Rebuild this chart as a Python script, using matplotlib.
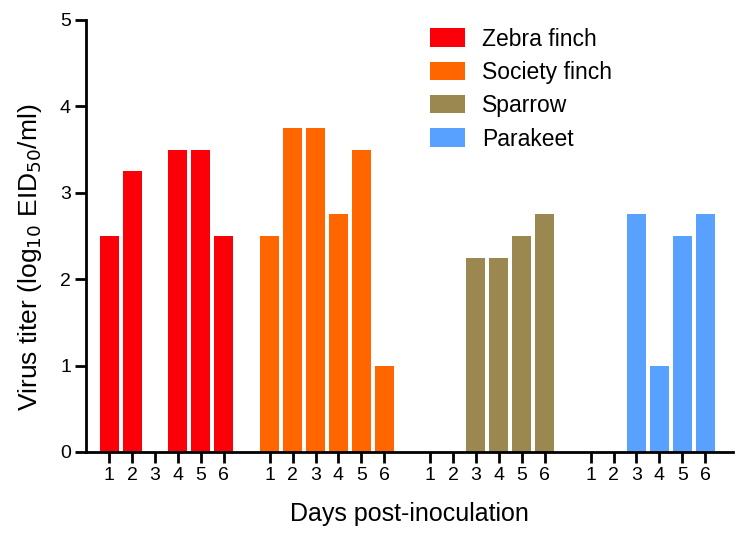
import numpy as np
import matplotlib.pyplot as plt

plt.rcParams['font.family'] = ['Liberation Sans', 'DejaVu Sans']

birds = ['Zebra finch', 'Society finch', 'Sparrow', 'Parakeet']
colors = ['#fc0009', '#ff6600', '#9b8850', '#58a1ff']
days = [1, 2, 3, 4, 5, 6]
zebra = [2.5, 3.25, 0, 3.5, 3.5, 2.5]
society = [2.5, 3.75, 3.75, 2.75, 3.5, 1.0]
sparrow = [0, 0, 2.25, 2.25, 2.5, 2.75]
parakeet = [0, 0, 2.75, 1.0, 2.5, 2.75]

titers = [zebra, society, sparrow, parakeet]

fig = plt.figure(figsize=(7.5, 5.38), dpi=100)
ax = fig.add_axes([0.115, 0.16, 0.862, 0.803])

tick_pos = []
tick_lab = []
for g, (name, vals, c) in enumerate(zip(birds, titers, colors)):
    x = np.array(days) + g * 7
    ax.bar(x, vals, width=0.83, color=c, label=name)
    tick_pos.extend(x)
    tick_lab.extend([str(d) for d in days])

ax.set_xlim(0, 28.2)
ax.set_ylim(0, 5)
ax.set_xticks(tick_pos)
ax.set_xticklabels(tick_lab)
ax.set_yticks([0, 1, 2, 3, 4, 5])
ax.tick_params(axis='both', length=8, width=2, labelsize=14, pad=3)

for s in ['top', 'right']:
    ax.spines[s].set_visible(False)
for s in ['left', 'bottom']:
    ax.spines[s].set_linewidth(2)

ax.set_ylabel('Virus titer (log$_{10}$ EID$_{50}$/ml)', fontsize=19)
ax.yaxis.set_label_coords(-0.066, 0.45)
ax.set_xlabel('Days post-inoculation', fontsize=18, labelpad=13)

ax.legend(loc='upper left', bbox_to_anchor=(0.5, 1.03), frameon=False, fontsize=16.5,
          handlelength=1.5, handleheight=0.85, handletextpad=0.75, labelspacing=0.45)

plt.savefig('out.png', dpi=100)
